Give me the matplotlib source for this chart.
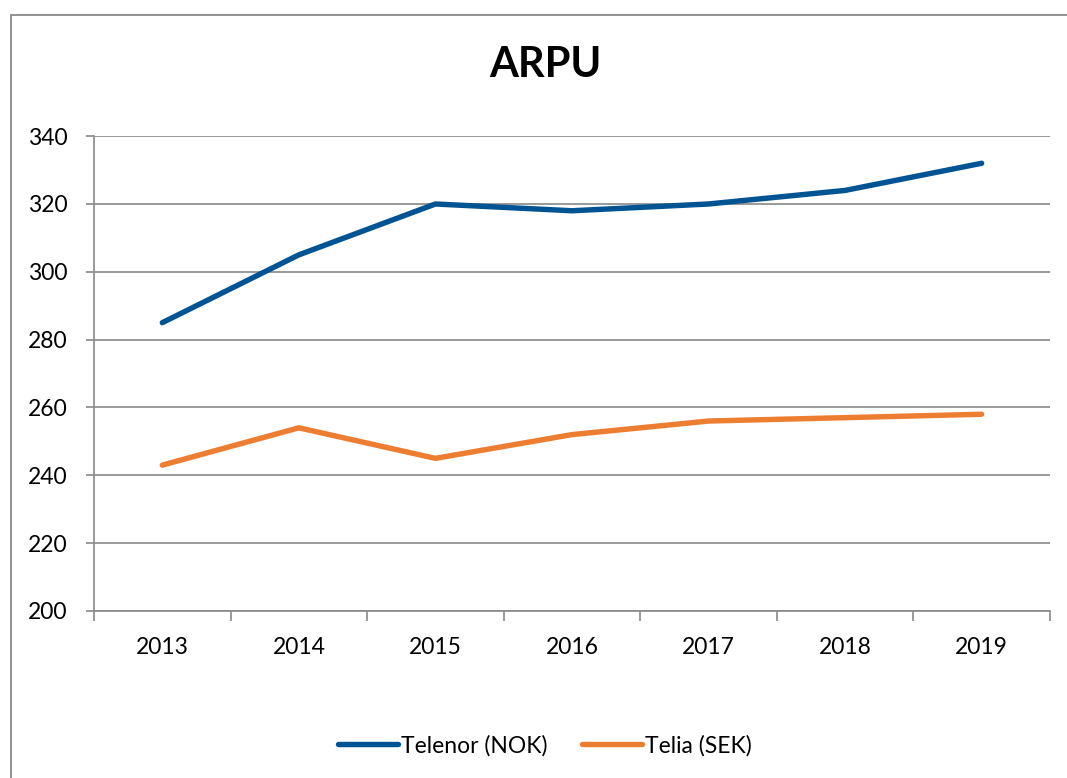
import matplotlib
matplotlib.use("Agg")
import matplotlib.pyplot as plt
from matplotlib.patches import Rectangle

years = ["2013", "2014", "2015", "2016", "2017", "2018", "2019"]
telenor_nok = [285, 305, 320, 318, 320, 324, 332]
telia_sek = [243, 254, 245, 252, 256, 257, 258]
y_ticks = [200, 220, 240, 260, 280, 300, 320, 340]

plt.rcParams['font.family'] = ['Lato', 'DejaVu Sans']

fig = plt.figure(figsize=(10.67, 7.78), dpi=100)
ax = fig.add_axes([0.0881, 0.2147, 0.8959, 0.6103])

# outer chart border (cut off at right and bottom)
fig.patches.append(Rectangle((11 / 1067, -0.2), 1.2, 0.2 + 1 - 15 / 778,
                             transform=fig.transFigure, fill=False,
                             edgecolor="#898989", lw=1.3))

x = list(range(len(years)))
ax.plot(x, telenor_nok, color="#005493", lw=3.9, solid_capstyle="round",
        solid_joinstyle="round", label="Telenor (NOK)", zorder=3)
ax.plot(x, telia_sek, color="#ED7D31", lw=3.9, solid_capstyle="round",
        solid_joinstyle="round", label="Telia (SEK)", zorder=3)

ax.set_xlim(-0.5, len(years) - 0.5)
ax.set_ylim(200, 340)
ax.set_yticks(y_ticks)
ax.set_xticks(x)
ax.set_xticklabels(years)
ax.set_xticks([i - 0.5 for i in range(len(years) + 1)], minor=True)
ax.tick_params(axis="x", which="major", length=0, pad=19, labelsize=16.5)
ax.tick_params(axis="x", which="minor", length=7, width=1.2, color="#898989")
ax.tick_params(axis="y", length=6, width=1.2, color="#898989", pad=13, labelsize=16.5)

ax.grid(axis="y", color="#898989", lw=1.2)
ax.set_axisbelow(True)
for s in ["top", "right"]:
    ax.spines[s].set_visible(False)
for s in ["left", "bottom"]:
    ax.spines[s].set_color("#898989")
    ax.spines[s].set_linewidth(1.2)

fig.text(0.511, 0.917, "ARPU", ha="center", va="center", fontsize=30,
         fontweight="bold")

fig.legend(loc="center", bbox_to_anchor=(0.511, 0.042), ncol=2, frameon=False,
           fontsize=16.5, handlelength=2.6, handletextpad=0.15, columnspacing=1.5)

fig.savefig("out.png", dpi=100)
